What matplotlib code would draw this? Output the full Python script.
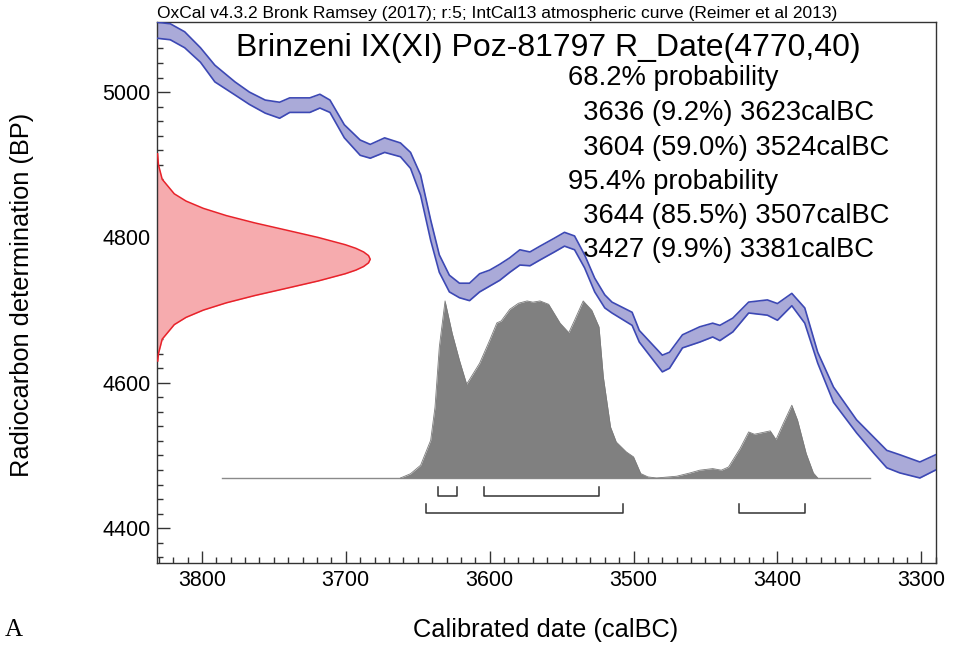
import matplotlib
matplotlib.use("Agg")
import matplotlib.pyplot as plt
from matplotlib.ticker import MultipleLocator

plt.rcParams['font.family'] = ['Liberation Sans', 'DejaVu Sans']

# calibration curve (IntCal13), upper / lower 1-sigma edges, BP
cal_year = [3831, 3822, 3812, 3801, 3791, 3777, 3767, 3756, 3746, 3739, 3725,
            3718, 3711, 3701, 3690, 3683, 3673, 3662, 3655, 3648, 3641, 3635,
            3628, 3621, 3614, 3607, 3600, 3593, 3586, 3579, 3572, 3565, 3555,
            3548, 3541, 3534, 3527, 3520, 3515, 3501, 3496, 3480, 3475, 3466,
            3454, 3445, 3440, 3431, 3420, 3407, 3400, 3390, 3381, 3372, 3361,
            3345, 3333, 3324, 3315, 3301, 3290]
cal_upper = [5096, 5094, 5083, 5061, 5037, 5014, 5000, 4989, 4986, 4992, 4992,
             4997, 4989, 4955, 4934, 4928, 4937, 4930, 4917, 4886, 4824, 4776,
             4748, 4737, 4737, 4750, 4755, 4763, 4772, 4783, 4780, 4788, 4799,
             4807, 4802, 4776, 4744, 4721, 4711, 4697, 4672, 4638, 4642, 4666,
             4677, 4682, 4679, 4689, 4711, 4714, 4709, 4723, 4703, 4642, 4594,
             4549, 4525, 4507, 4501, 4491, 4501]
cal_lower = [5074, 5072, 5061, 5041, 5014, 4996, 4983, 4971, 4964, 4972, 4972,
             4978, 4972, 4937, 4913, 4909, 4917, 4911, 4895, 4858, 4796, 4752,
             4725, 4717, 4713, 4725, 4733, 4741, 4752, 4762, 4761, 4769, 4780,
             4788, 4783, 4758, 4725, 4703, 4696, 4679, 4656, 4615, 4620, 4648,
             4656, 4663, 4658, 4670, 4696, 4693, 4686, 4706, 4682, 4627, 4573,
             4531, 4503, 4483, 4476, 4469, 4480]

# R_Date(4770,40) shown on the y axis: width in years from the left edge
rc_bp = [4915, 4900, 4880, 4860, 4850, 4840, 4830, 4820, 4810, 4800, 4790,
         4785, 4780, 4775, 4770, 4765, 4760, 4755, 4750, 4740, 4730, 4720,
         4710, 4700, 4690, 4680, 4660, 4640, 4630]
rc_width = [0.2, 0.8, 3.4, 11.8, 20, 32, 48, 67.7, 89.8, 111.7, 130.6,
            138, 143.4, 146.8, 148, 146.8, 143.4, 138, 130.6, 111.7, 89.8, 67.7,
            48, 32, 20, 11.8, 3.4, 0.8, 0.3]

# calibrated probability (relative height)
post_year = [3662, 3655, 3648, 3641, 3638, 3635, 3631, 3626, 3621, 3616,
             3607, 3600, 3595, 3592, 3586, 3580, 3574, 3570, 3565, 3559,
             3551, 3545, 3541, 3535, 3529, 3524, 3521, 3516, 3512, 3505,
             3500, 3495, 3490, 3484, 3470, 3461, 3454, 3445, 3439, 3434,
             3426, 3420, 3416, 3405, 3401, 3396, 3390, 3386, 3380, 3375, 3372]
post_rel = [0, 0.024, 0.072, 0.213, 0.40, 0.74, 1.0, 0.816, 0.665, 0.53,
            0.648, 0.778, 0.876, 0.887, 0.953, 0.987, 1.0, 0.993, 1.0, 0.981,
            0.874, 0.821, 0.891, 1.0, 0.947, 0.853, 0.571, 0.288, 0.203, 0.147,
            0.119, 0.025, 0.006, 0, 0.01, 0.028, 0.044, 0.053, 0.044, 0.062,
            0.166, 0.26, 0.247, 0.266, 0.217, 0.307, 0.411, 0.326, 0.138, 0.028, 0]
post_span = [3786, 3336]

# hpd ranges
range68 = [(3636, 3623), (3604, 3524)]
range95 = [(3644, 3507), (3427, 3381)]

header = "OxCal v4.3.2 Bronk Ramsey (2017); r:5; IntCal13 atmospheric curve (Reimer et al 2013)"
title = "Brinzeni IX(XI) Poz-81797 R_Date(4770,40)"
prob_lines = ["68.2% probability",
              "  3636 (9.2%) 3623calBC",
              "  3604 (59.0%) 3524calBC",
              "95.4% probability",
              "  3644 (85.5%) 3507calBC",
              "  3427 (9.9%) 3381calBC"]

W, H = 954, 647
fig = plt.figure(figsize=(W / 100, H / 100), dpi=100)
ax = fig.add_axes([157.3 / W, 1 - 563 / H, (935.7 - 157.3) / W, (563 - 22.3) / H])
x_left, x_right = 3831, 3290
ax.set_xlim(x_left, x_right)
ax.set_ylim(4352, 5096)

# calibration curve
ax.fill_between(cal_year, cal_lower, cal_upper, color="#aaaad8", lw=0, zorder=2)
ax.plot(cal_year, cal_upper, color="#3c48b4", lw=1.2, zorder=3)
ax.plot(cal_year, cal_lower, color="#3c48b4", lw=1.2, zorder=3)

# radiocarbon date
rc_x = [x_left - w for w in rc_width]
ax.fill_betweenx(rc_bp, x_left, rc_x, color="#f6abae", lw=0, zorder=2)
ax.plot(rc_x, rc_bp, color="#e8222a", lw=1.1, zorder=3)

# posterior
base = 4469
scale = 243.6
post_y = [base + r * scale for r in post_rel]
ax.plot(post_span, [base, base], color="#8a8a8a", lw=1.0, zorder=2)
ax.fill_between(post_year, base, post_y, color="#808080", lw=0, zorder=2)
ax.plot(post_year, post_y, color="#7a7a7a", lw=0.6, zorder=2)

# range brackets
def bracket(a, b, top, bottom):
    ax.plot([a, a, b, b], [top, bottom, bottom, top], color="#333333", lw=1.1,
            zorder=3)

for a, b in range68:
    bracket(a, b, 4457, 4444)
for a, b in range95:
    bracket(a, b, 4433, 4421)

# axes styling
ax.xaxis.set_major_locator(MultipleLocator(100))
ax.xaxis.set_minor_locator(MultipleLocator(10))
ax.yaxis.set_major_locator(MultipleLocator(200))
ax.yaxis.set_minor_locator(MultipleLocator(20))
ax.tick_params(which="both", direction="in", color="#333333", width=1.0)
ax.tick_params(which="major", length=9, labelsize=15.5, pad=5)
ax.tick_params(which="minor", length=4)
ax.tick_params(axis="x", which="both", top=False)
ax.tick_params(axis="y", which="both", right=False)
for s in ax.spines.values():
    s.set_color("#333333")
    s.set_linewidth(1.0)

fig.text(22 / W, 1 - 295 / H, "Radiocarbon determination (BP)", rotation=90,
         ha="center", va="center", fontsize=18.3)
fig.text(546 / W, 1 - 630 / H, "Calibrated date (calBC)", ha="center",
         va="center", fontsize=18.3)
fig.text(5 / W, 1 - 630 / H, "A", ha="left", va="center", fontsize=18,
         family="Liberation Serif")

fig.text(157 / W, 1 - 21 / H, header, ha="left", va="bottom", fontsize=12.5)
fig.text(548 / W, 1 - 48 / H, title, ha="center", va="center", fontsize=23)
line_y = [78, 113, 148, 182, 216, 250]
for txt, yy in zip(prob_lines, line_y):
    fig.text(568 / W, 1 - yy / H, txt, ha="left", va="center", fontsize=19.7)

fig.savefig("out.png", dpi=100)
